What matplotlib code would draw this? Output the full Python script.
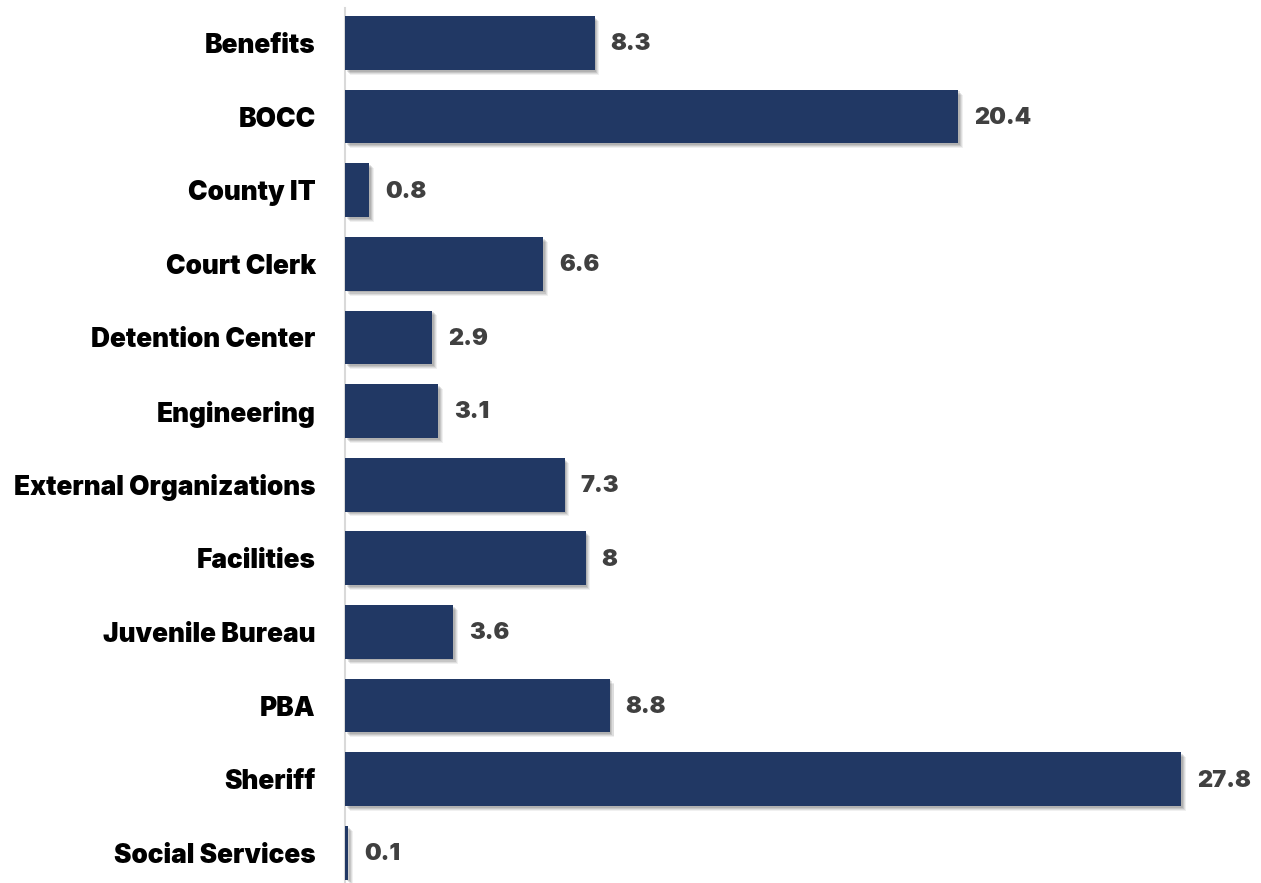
import matplotlib
matplotlib.use('Agg')

import matplotlib.pyplot as plt
import matplotlib.patheffects as pe

departments = ['Benefits', 'BOCC', 'County IT', 'Court Clerk', 'Detention Center',
               'Engineering', 'External Organizations', 'Facilities', 'Juvenile Bureau',
               'PBA', 'Sheriff', 'Social Services']
values = [8.3, 20.4, 0.8, 6.6, 2.9, 3.1, 7.3, 8, 3.6, 8.8, 27.8, 0.1]
value_labels = ['8.3', '20.4', '0.8', '6.6', '2.9', '3.1', '7.3', '8', '3.6', '8.8', '27.8', '0.1']

plt.rcParams['font.family'] = ['Inter', 'DejaVu Sans']

fig = plt.figure(figsize=(12.61, 8.83), dpi=100)
ax = fig.add_axes([345 / 1261, 0, 1 - 345 / 1261, 1])

pos = list(range(len(departments)))
bars = ax.barh(pos, values, height=0.73, color='#213864', zorder=3)
# soft drop shadow
shadow = [pe.SimplePatchShadow(offset=(o, -o), shadow_rgbFace='#000000', alpha=a)
          for o, a in [(3.5, 0.06), (2.8, 0.08), (2.0, 0.1), (1.2, 0.1)]]
for b in bars:
    b.set_path_effects(shadow + [pe.Normal()])

for p, v, lab in zip(pos, values, value_labels):
    ax.annotate(lab, xy=(v, p), xytext=(11.5, -1), textcoords='offset points',
                ha='left', va='center', fontsize=17, fontweight='black', color='#404040')

ax.set_xlim(0, 30.46)
ax.set_ylim(11.41, -0.584)
ax.set_yticks(pos)
ax.set_yticklabels(departments, fontsize=18.9, fontweight='black', color='black')
ax.tick_params(axis='y', length=0, pad=21)
ax.set_xticks([])

for s in ['top', 'right', 'bottom']:
    ax.spines[s].set_visible(False)
ax.spines['left'].set_color('#d9d9d9')
ax.spines['left'].set_linewidth(1.5)
ax.spines['left'].set_bounds(11.41, -0.475)

plt.savefig('out.png', dpi=100)
